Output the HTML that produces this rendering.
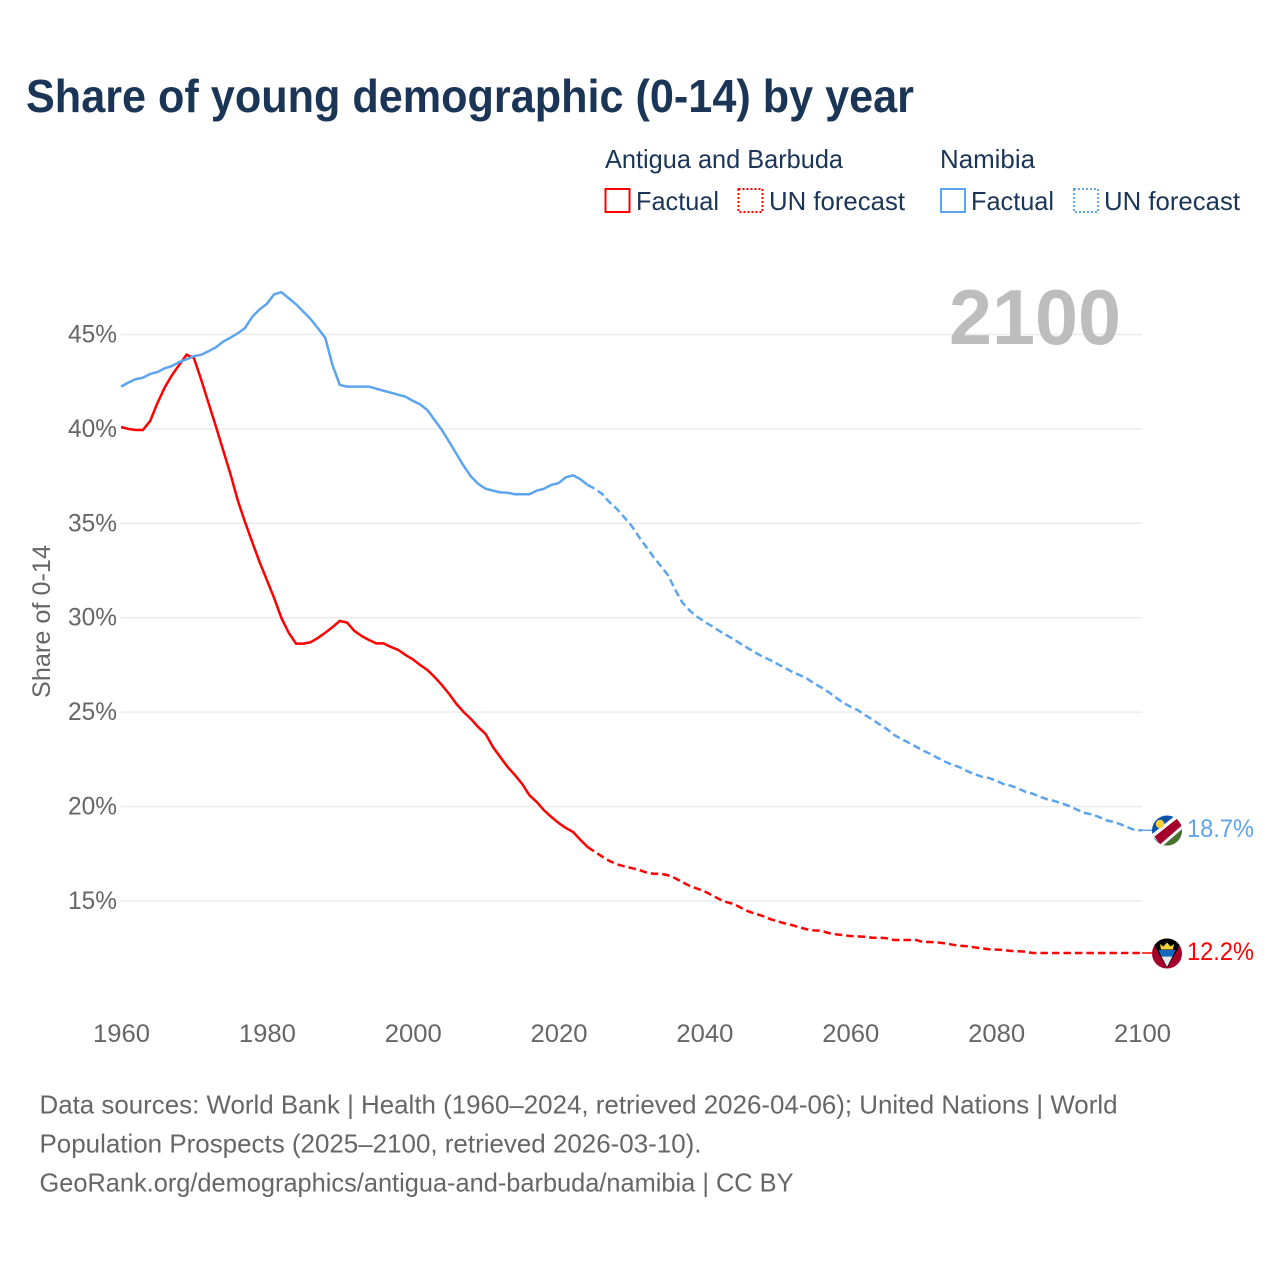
<!DOCTYPE html>
<html lang="en">
<head>
<meta charset="utf-8">
<title>Share of young demographic (0-14) by year</title>
<style>
html,body{margin:0;padding:0;background:#fff;}
svg{display:block;}
text{font-family:"Liberation Sans",sans-serif;}
</style>
</head>
<body>
<svg id="chart" width="1280" height="1280" viewBox="0 0 1280 1280" xmlns="http://www.w3.org/2000/svg">
  <rect width="1280" height="1280" fill="#fff"/>
  <text x="26" y="112" font-size="46" font-weight="700" fill="#1a3556" textLength="888" lengthAdjust="spacingAndGlyphs">Share of young demographic (0-14) by year</text>

  <g fill="#1a3556" font-size="26">
    <text x="605" y="168" textLength="238" lengthAdjust="spacingAndGlyphs">Antigua and Barbuda</text>
    <text x="940" y="168" textLength="95" lengthAdjust="spacingAndGlyphs">Namibia</text>
    <rect x="605.5" y="189" width="24" height="23" fill="none" stroke="#ff0000" stroke-width="2"/>
    <text x="636" y="210" textLength="83" lengthAdjust="spacingAndGlyphs">Factual</text>
    <rect x="738.5" y="189" width="24" height="23" fill="none" stroke="#ff0000" stroke-width="2" stroke-dasharray="2 2"/>
    <text x="769" y="210" textLength="136" lengthAdjust="spacingAndGlyphs">UN forecast</text>
    <rect x="941" y="189" width="24" height="23" fill="none" stroke="#5ca5ee" stroke-width="2"/>
    <text x="971" y="210" textLength="83" lengthAdjust="spacingAndGlyphs">Factual</text>
    <rect x="1074" y="189" width="24" height="23" fill="none" stroke="#5ca5ee" stroke-width="2" stroke-dasharray="2 2"/>
    <text x="1104" y="210" textLength="136" lengthAdjust="spacingAndGlyphs">UN forecast</text>
  </g>

  <text transform="translate(50,698) rotate(-90)" x="0" y="0" font-size="25" fill="#666" textLength="153" lengthAdjust="spacingAndGlyphs">Share of 0-14</text>

  <g id="grid"></g>
  <g id="yticks"></g>
  <g id="xticks"></g>

  <text x="949" y="344" font-size="78" font-weight="700" fill="#bdbdbd" textLength="172" lengthAdjust="spacingAndGlyphs">2100</text>

  <g id="series"></g>

  <g>
    <clipPath id="clipNam"><circle cx="1167" cy="830.5" r="15"/></clipPath>
    <g clip-path="url(#clipNam)">
      <rect x="1152" y="815" width="30" height="31" fill="#0a52a8"/>
      <polygon points="1152,846 1182,846 1182,815" fill="#4b6f2c"/>
      <polygon points="1151.5,834.5 1176.5,814.5 1185,826.5 1162,846.5" fill="#fff"/>
      <polygon points="1154.5,836.5 1178.5,817.5 1183,824.5 1160,844.5" fill="#a5002b"/>
      <circle cx="1160" cy="824" r="4.2" fill="#ffce3a"/>
    </g>
  </g>
  <g>
    <clipPath id="clipAnt"><circle cx="1167" cy="953.5" r="15"/></clipPath>
    <g clip-path="url(#clipAnt)">
      <rect x="1152" y="938" width="30" height="31" fill="#a5002b"/>
      <polygon points="1150,938 1184,938 1167,968" fill="#000"/>
      <polygon points="1158.5,950 1175.5,950 1172.4,957 1161.6,957" fill="#1467c0"/>
      <polygon points="1161.6,956.6 1172.4,956.6 1167,967" fill="#e8e8e8"/>
      <polygon points="1161,949.5 1173,949.5 1174,944 1170.5,946.5 1167,942.5 1163.5,946.5 1160,944" fill="#f5d33a"/>
    </g>
  </g>

  <text id="label-nam" x="1187" y="837" font-size="25" fill="#5ca5ee" textLength="67" lengthAdjust="spacingAndGlyphs">18.7%</text>
  <text id="label-ant" x="1187" y="960" font-size="25" fill="#ff0000" textLength="67" lengthAdjust="spacingAndGlyphs">12.2%</text>

  <g font-size="26" fill="#666">
    <text x="39.5" y="1113.5" textLength="1078" lengthAdjust="spacingAndGlyphs">Data sources: World Bank | Health (1960–2024, retrieved 2026-04-06); United Nations | World</text>
    <text x="39.5" y="1152.5" textLength="662" lengthAdjust="spacingAndGlyphs">Population Prospects (2025–2100, retrieved 2026-03-10).</text>
    <text x="39.5" y="1191.5" textLength="754" lengthAdjust="spacingAndGlyphs">GeoRank.org/demographics/antigua-and-barbuda/namibia | CC BY</text>
  </g>
</svg>
<script>
const factualStartYear = 1960;
const forecastStartYear = 2024;
const xTickYears = [1960, 1980, 2000, 2020, 2040, 2060, 2080, 2100];
const yTickValues = [45, 40, 35, 30, 25, 20, 15];

const antiguaFactual = [
  40.10,40.00,39.94,39.94,40.42,41.37,42.20,42.85,43.40,43.93,
  43.75,42.60,41.37,40.15,38.88,37.62,36.23,35.07,34.00,32.95,
  32.00,31.04,29.98,29.20,28.63,28.63,28.70,28.93,29.20,29.50,
  29.83,29.74,29.30,29.03,28.82,28.64,28.64,28.45,28.30,28.03,
  27.80,27.50,27.23,26.86,26.43,25.96,25.43,25.00,24.63,24.20,
  23.84,23.15,22.62,22.10,21.67,21.20,20.60,20.24,19.80,19.45,
  19.13,18.86,18.65,18.23,17.85
];
const antiguaForecast = [
  17.85,17.59,17.34,17.11,16.94,16.83,16.74,16.64,16.51,16.44,
  16.44,16.36,16.20,15.99,15.79,15.65,15.51,15.31,15.10,14.94,
  14.84,14.64,14.45,14.32,14.20,14.04,13.92,13.81,13.72,13.60,
  13.50,13.44,13.42,13.30,13.23,13.19,13.14,13.12,13.10,13.05,
  13.05,13.02,12.93,12.93,12.93,12.93,12.82,12.82,12.80,12.75,
  12.68,12.63,12.60,12.54,12.49,12.44,12.42,12.40,12.35,12.33,
  12.31,12.24,12.24,12.24,12.24,12.24,12.24,12.24,12.24,12.24,
  12.24,12.24,12.24,12.24,12.24,12.24,12.24
];
const namibiaFactual = [
  42.24,42.45,42.63,42.71,42.91,43.01,43.21,43.33,43.54,43.69,
  43.85,43.93,44.11,44.32,44.62,44.83,45.06,45.34,45.94,46.33,
  46.62,47.13,47.24,46.92,46.60,46.21,45.82,45.33,44.83,43.38,
  42.33,42.24,42.24,42.24,42.24,42.13,42.02,41.92,41.81,41.71,
  41.49,41.30,41.00,40.47,39.94,39.32,38.67,38.04,37.47,37.08,
  36.83,36.73,36.64,36.62,36.54,36.54,36.54,36.73,36.83,37.03,
  37.13,37.44,37.54,37.33,37.03
];
const namibiaForecast = [
  37.03,36.82,36.55,36.11,35.76,35.32,34.87,34.29,33.76,33.23,
  32.74,32.26,31.47,30.79,30.37,30.05,29.79,29.56,29.31,29.08,
  28.86,28.61,28.38,28.15,27.93,27.76,27.55,27.35,27.14,26.97,
  26.79,26.53,26.31,26.07,25.78,25.50,25.29,25.11,24.85,24.62,
  24.35,24.11,23.79,23.58,23.38,23.17,22.96,22.78,22.57,22.37,
  22.21,22.08,21.88,21.72,21.58,21.51,21.37,21.19,21.10,20.96,
  20.78,20.68,20.52,20.38,20.29,20.17,20.03,19.85,19.67,19.59,
  19.46,19.28,19.19,19.07,18.90,18.75,18.74
];

const SVG_NS = 'http://www.w3.org/2000/svg';
function xScale(year) { return 121 + (year - 1960) * (1142 - 121) / 140; }
function yScale(value) { return 334.5 + (45 - value) * 18.88; }
function linePath(values, startYear) {
  return values.map(function (v, i) {
    return (i ? 'L' : 'M') + xScale(startYear + i).toFixed(2) + ' ' + yScale(v).toFixed(2);
  }).join(' ');
}

const gridGroup = document.getElementById('grid');
const yGroup = document.getElementById('yticks');
const xGroup = document.getElementById('xticks');
const seriesGroup = document.getElementById('series');

yTickValues.forEach(function (v) {
  const line = document.createElementNS(SVG_NS, 'line');
  
  
  line.setAttribute('x1', xScale(1960));
  line.setAttribute('x2', xScale(2100));
  line.setAttribute('y1', yScale(v));
  line.setAttribute('y2', yScale(v));
  line.setAttribute('stroke', '#ebebeb');
  line.setAttribute('stroke-width', '1.5');
  gridGroup.appendChild(line);

  const label = document.createElementNS(SVG_NS, 'text');
  
  
  label.setAttribute('x', 68);
  label.setAttribute('y', yScale(v) + 8);
  label.setAttribute('font-size', '25');
  label.setAttribute('fill', '#666');
  label.setAttribute('textLength', '49');
  label.setAttribute('lengthAdjust', 'spacingAndGlyphs');
  label.textContent = v + '%';
  yGroup.appendChild(label);
});

xTickYears.forEach(function (yr) {
  const label = document.createElementNS(SVG_NS, 'text');
  
  
  label.setAttribute('x', xScale(yr) - 28);
  label.setAttribute('y', 1042);
  label.setAttribute('font-size', '25');
  label.setAttribute('fill', '#666');
  label.setAttribute('textLength', '57');
  label.setAttribute('lengthAdjust', 'spacingAndGlyphs');
  label.textContent = yr;
  xGroup.appendChild(label);
});

const antiguaFactualLine = document.createElementNS(SVG_NS, 'path');


antiguaFactualLine.setAttribute('d', linePath(antiguaFactual, factualStartYear));
antiguaFactualLine.setAttribute('fill', 'none');
antiguaFactualLine.setAttribute('stroke', '#ff0000');
antiguaFactualLine.setAttribute('stroke-width', '2.5');
seriesGroup.appendChild(antiguaFactualLine);

const antiguaForecastLine = document.createElementNS(SVG_NS, 'path');


antiguaForecastLine.setAttribute('d', linePath(antiguaForecast, forecastStartYear));
antiguaForecastLine.setAttribute('fill', 'none');
antiguaForecastLine.setAttribute('stroke', '#ff0000');
antiguaForecastLine.setAttribute('stroke-width', '2.5');
antiguaForecastLine.setAttribute('stroke-dasharray', '7.5 4');
seriesGroup.appendChild(antiguaForecastLine);

const namibiaFactualLine = document.createElementNS(SVG_NS, 'path');


namibiaFactualLine.setAttribute('d', linePath(namibiaFactual, factualStartYear));
namibiaFactualLine.setAttribute('fill', 'none');
namibiaFactualLine.setAttribute('stroke', '#5ca5ee');
namibiaFactualLine.setAttribute('stroke-width', '2.5');
seriesGroup.appendChild(namibiaFactualLine);

const namibiaForecastLine = document.createElementNS(SVG_NS, 'path');


namibiaForecastLine.setAttribute('d', linePath(namibiaForecast, forecastStartYear));
namibiaForecastLine.setAttribute('fill', 'none');
namibiaForecastLine.setAttribute('stroke', '#5ca5ee');
namibiaForecastLine.setAttribute('stroke-width', '2.5');
namibiaForecastLine.setAttribute('stroke-dasharray', '7.5 4');
seriesGroup.appendChild(namibiaForecastLine);

const antiguaLast = antiguaForecast[antiguaForecast.length - 1];
const namibiaLast = namibiaForecast[namibiaForecast.length - 1];

const antiguaConnector = document.createElementNS(SVG_NS, 'line');


antiguaConnector.setAttribute('x1', xScale(2100));
antiguaConnector.setAttribute('x2', xScale(2100) + 10);
antiguaConnector.setAttribute('y1', yScale(antiguaLast));
antiguaConnector.setAttribute('y2', yScale(antiguaLast));
antiguaConnector.setAttribute('stroke', '#ff0000');
antiguaConnector.setAttribute('stroke-width', '1.5');
seriesGroup.appendChild(antiguaConnector);

const namibiaConnector = document.createElementNS(SVG_NS, 'line');


namibiaConnector.setAttribute('x1', xScale(2100));
namibiaConnector.setAttribute('x2', xScale(2100) + 10);
namibiaConnector.setAttribute('y1', yScale(namibiaLast));
namibiaConnector.setAttribute('y2', yScale(namibiaLast));
namibiaConnector.setAttribute('stroke', '#5ca5ee');
namibiaConnector.setAttribute('stroke-width', '1.5');
seriesGroup.appendChild(namibiaConnector);
</script>
</body>
</html>
